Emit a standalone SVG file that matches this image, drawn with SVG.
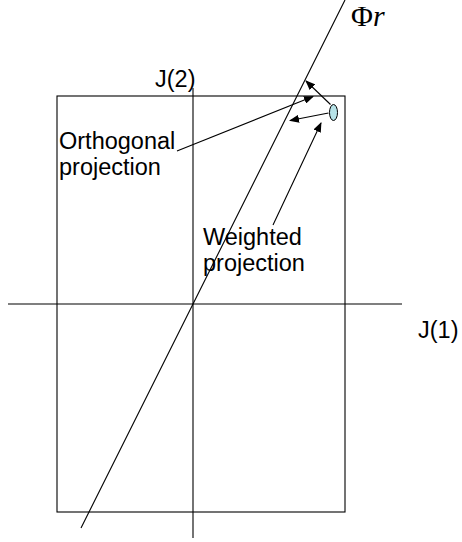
<svg xmlns="http://www.w3.org/2000/svg" width="462" height="542" viewBox="0 0 462 542">
<defs>
<style>
.ln{stroke:#000;stroke-width:1.1;fill:none}
.t{font-family:"Liberation Sans",Arial,sans-serif;font-size:23.5px;fill:#000}
</style>
<marker id="ah" markerWidth="10" markerHeight="8" refX="9" refY="4" orient="auto" markerUnits="userSpaceOnUse">
<path d="M0,0 L10,4 L0,8 Z" fill="#000"/>
</marker>
</defs>
<rect width="462" height="542" fill="#fff"/>
<g id="frame"><rect x="57" y="96" width="288" height="416" class="ln"/></g>
<g id="axes">
<line x1="193" y1="88" x2="193" y2="538" class="ln"/>
<line x1="8" y1="304" x2="402" y2="304" class="ln"/>
<line x1="345" y1="0" x2="81" y2="528" class="ln"/>
</g>
<g id="point"><ellipse cx="333.5" cy="112.5" rx="4" ry="8" fill="#b7e3e8" stroke="#000" stroke-width="1"/></g>
<g id="connectors">
<line x1="330.5" y1="104.5" x2="306" y2="81" class="ln" marker-end="url(#ah)"/>
<line x1="328.5" y1="113" x2="290" y2="120.5" class="ln" marker-end="url(#ah)"/>
<line x1="177" y1="151" x2="313" y2="96.5" class="ln" marker-end="url(#ah)"/>
<line x1="273" y1="225" x2="321" y2="123" class="ln" marker-end="url(#ah)"/>
</g>
<g id="labels">
<text class="t" x="155" y="87">J(2)</text>
<text class="t" x="418" y="338">J(1)</text>
<text class="t" x="59" y="149">Orthogonal</text>
<text class="t" x="59" y="175">projection</text>
<text class="t" x="203" y="245">Weighted</text>
<text class="t" x="203" y="271">projection</text>
<text x="351" y="26" font-family="'Liberation Serif','Times New Roman',serif" font-size="30" fill="#000">Φ<tspan font-style="italic">r</tspan></text>
</g>
</svg>
